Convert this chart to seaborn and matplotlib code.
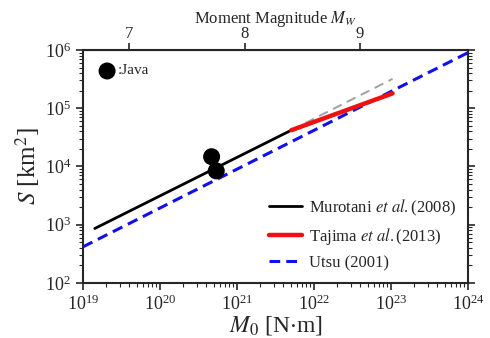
import numpy as np
import pandas as pd
import seaborn as sns
import matplotlib.pyplot as plt
from matplotlib.ticker import FixedLocator, FormatStrFormatter, NullLocator

# end points (M0 in N*m, S in km^2)
murotani_m0 = [1.43e19, 5.1e21]
murotani_s = [860, 4.2e4]
tajima_m0 = [5.1e21, 1.05e23]
tajima_s = [4.2e4, 1.8e5]
extend_m0 = [5.1e21, 1.05e23]
extend_s = [4.2e4, 3.2e5]
utsu_m0 = [1e19, 1e24]
utsu_s = [415, 9.0e5]
java_m0 = [4.7e20, 5.4e20]
java_s = [1.47e4, 8.4e3]
mw_ticks = [7, 8, 9]

sns.set_style("ticks")
plt.rcParams['font.family'] = ['Liberation Serif', 'DejaVu Serif']
plt.rcParams['mathtext.fontset'] = 'stix'

fig = plt.figure(figsize=(4.9, 3.38), dpi=100)
ax = fig.add_axes([0.169, 0.163, 0.786, 0.689])

sns.lineplot(x=extend_m0, y=extend_s, ax=ax, color='#a0a0a0', lw=1.4, ls=(0, (5, 3)))
sns.lineplot(x=utsu_m0, y=utsu_s, ax=ax, color='#1010ee', lw=2.2, ls=(0, (3.5, 2)), label='Utsu (2001)')
sns.lineplot(x=murotani_m0, y=murotani_s, ax=ax, color='black', lw=2.0, label='Murotani $\\it{et\\ al.}$(2008)')
sns.lineplot(x=tajima_m0, y=tajima_s, ax=ax, color='#ee1111', lw=3.2, label='Tajima $\\it{et\\ al.}$(2013)')
sns.scatterplot(x=java_m0, y=java_s, ax=ax, color='black', s=150, edgecolor='none', zorder=5)

ax.set_xscale('log')
ax.set_yscale('log')
ax.set_xlim(1e19, 1e24)
ax.set_ylim(1e2, 1e6)
ax.set_xticks([1e19, 1e20, 1e21, 1e22, 1e23, 1e24])
ax.set_yticks([1e2, 1e3, 1e4, 1e5, 1e6])
ax.tick_params(axis='both', which='major', labelsize=13, width=1.2, length=5, direction='out')
ax.tick_params(axis='both', which='minor', width=0.8, length=3, direction='out')
ax.tick_params(axis='y', right=True, which='both')
for sp in ax.spines.values():
    sp.set_linewidth(1.5)
    sp.set_visible(True)

ax.set_xlabel('$M_0$ [N$\\cdot$m]', fontsize=17, labelpad=0)
ax.set_ylabel('$S$ [km$^2$]', fontsize=18, labelpad=2)

# moment magnitude on top
top = ax.secondary_xaxis('top', functions=(lambda m: (np.log10(np.clip(m, 1e-30, None)) - 9.1) / 1.5,
                                           lambda w: 10 ** (1.5 * w + 9.1)))
top.set_xscale('linear')
top.xaxis.set_major_locator(FixedLocator(mw_ticks))
top.xaxis.set_major_formatter(FormatStrFormatter('%d'))
top.xaxis.set_minor_locator(NullLocator())
top.tick_params(labelsize=12, width=1.2, length=5, pad=1)
top.set_xlabel('Moment Magnitude $M_W$', fontsize=12, labelpad=2)

# Java key in upper left
ax.scatter([0.063], [0.91], transform=ax.transAxes, s=150, color='black', edgecolor='none')
ax.text(0.09, 0.91, ':Java', transform=ax.transAxes, fontsize=11, va='center')

handles, labels = ax.get_legend_handles_labels()
order = [labels.index(l) for l in ['Murotani $\\it{et\\ al.}$(2008)', 'Tajima $\\it{et\\ al.}$(2013)', 'Utsu (2001)']]
ax.legend([handles[i] for i in order], [labels[i] for i in order], loc='lower right',
          frameon=False, fontsize=12, handlelength=2.0, labelspacing=0.5,
          borderaxespad=0.3, handletextpad=0.4)

fig.savefig('out.png', dpi=100)
